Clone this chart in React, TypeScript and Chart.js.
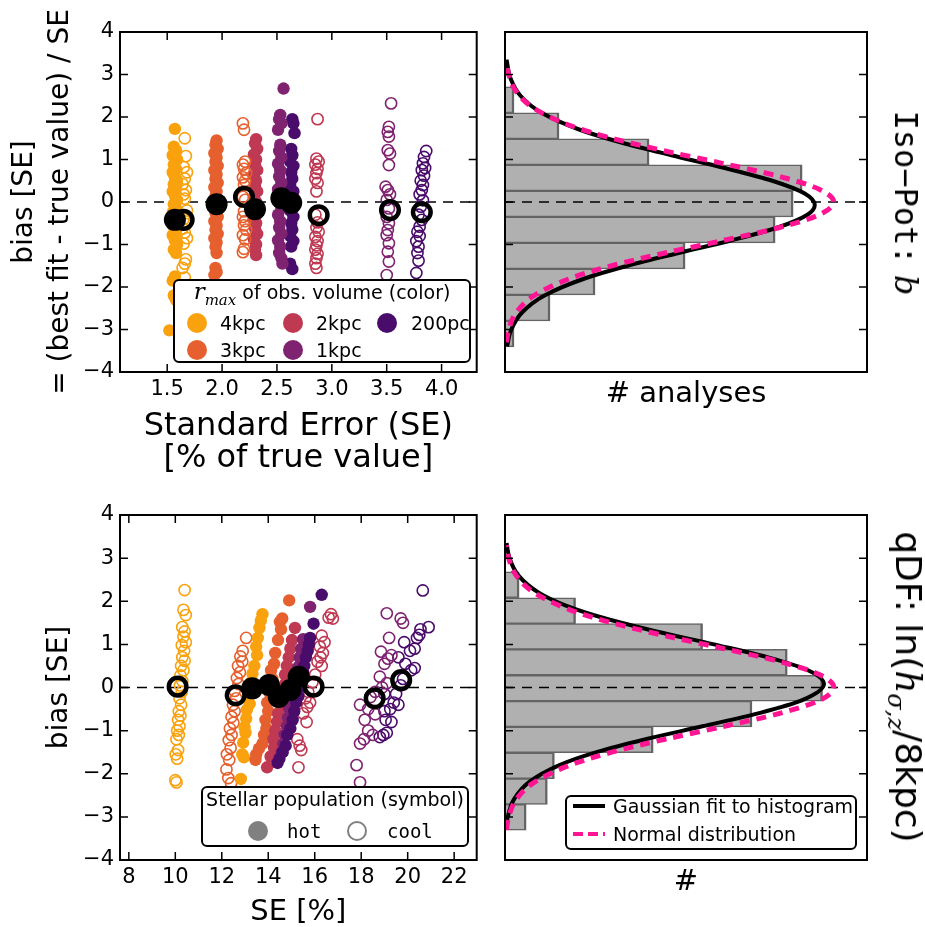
import React, { useEffect, useRef } from 'react';
import { Chart, registerables } from 'chart.js';

Chart.register(...registerables);

const SANS = "'DejaVu Sans', sans-serif";
const SERIF = "'DejaVu Serif', serif";
const MONO = "'DejaVu Sans Mono', monospace";

const C_4KPC = '#f9a20e';
const C_3KPC = '#e5602e';
const C_2KPC = '#bf3953';
const C_1KPC = '#7f2370';
const C_200PC = '#4a0c6b';
const PINK = '#ff1493';
const LEGEND_GRAY = '#808080';

// ---------- ticks ----------
const Y_TICKS = [-4, -3, -2, -1, 0, 1, 2, 3, 4];
const HIST_Y_TICKS = [-3, -2, -1, 0, 1, 2, 3];
const TL_X_TICKS = [1.5, 2.0, 2.5, 3.0, 3.5, 4.0];
const BL_X_TICKS = [8, 10, 12, 14, 16, 18, 20, 22];
const TL_X_RANGE = [1.07, 4.32];
const BL_X_RANGE = [7.62, 22.97];
const Y_RANGE = [-4, 4];

type Pt = [number, number];

// ---------- top-left: Iso-Pot b (SE in % of true value, bias in SE) ----------
const TL_4KPC_HOT: Pt[] = [[1.57,1.72],[1.56,1.30],[1.58,1.22],[1.55,1.10],[1.59,1.00],[1.56,0.88],[1.58,0.78],[1.55,0.70],[1.57,0.58],[1.59,0.50],[1.56,0.42],[1.58,0.32],[1.55,0.25],[1.57,0.15],[1.59,0.05],[1.56,-0.05],[1.58,-0.15],[1.55,-0.25],[1.57,-0.35],[1.59,-0.48],[1.56,-0.58],[1.58,-0.68],[1.55,-0.78],[1.57,-0.90],[1.59,-1.00],[1.56,-1.12],[1.58,-1.20],[1.57,-1.75],[1.55,-1.85],[1.56,-2.20],[1.58,-2.30],[1.52,-3.02]];
const TL_4KPC_COOL: Pt[] = [[1.66,1.50],[1.67,1.08],[1.65,0.82],[1.68,0.70],[1.66,0.55],[1.64,0.42],[1.67,0.28],[1.65,0.18],[1.66,0.08],[1.68,-0.20],[1.65,-0.40],[1.67,-0.52],[1.64,-0.62],[1.66,-0.72],[1.68,-0.85],[1.65,-0.98],[1.67,-1.35],[1.66,-1.45],[1.64,-1.55],[1.66,-1.78]];
const TL_3KPC_HOT: Pt[] = [[1.95,1.45],[1.94,1.35],[1.96,1.25],[1.93,1.15],[1.95,1.05],[1.94,0.95],[1.96,0.85],[1.93,0.75],[1.95,0.65],[1.94,0.55],[1.96,0.45],[1.93,0.35],[1.95,0.25],[1.94,0.15],[1.96,0.05],[1.93,-0.05],[1.95,-0.15],[1.94,-0.25],[1.96,-0.35],[1.93,-0.45],[1.95,-0.55],[1.94,-0.65],[1.96,-0.75],[1.93,-0.85],[1.95,-0.95],[1.94,-1.05],[1.95,-1.20],[1.94,-1.55],[1.95,-1.65],[1.93,-1.72]];
const TL_3KPC_COOL: Pt[] = [[2.19,1.85],[2.20,1.70],[2.21,0.95],[2.19,0.88],[2.20,0.78],[2.22,0.68],[2.19,0.58],[2.21,0.50],[2.20,0.40],[2.19,0.12],[2.21,0.05],[2.20,-0.22],[2.19,-0.35],[2.21,-0.45],[2.20,-0.55],[2.22,-0.65],[2.19,-0.78],[2.21,-0.88],[2.20,-1.10],[2.19,-1.18]];
const TL_2KPC_HOT: Pt[] = [[2.31,1.48],[2.30,1.38],[2.32,1.25],[2.29,1.12],[2.31,1.00],[2.30,0.88],[2.32,0.75],[2.29,0.62],[2.31,0.50],[2.30,0.38],[2.32,0.25],[2.29,0.12],[2.31,0.00],[2.30,-0.12],[2.32,-0.25],[2.29,-0.38],[2.31,-0.50],[2.30,-0.62],[2.32,-0.75],[2.29,-0.88],[2.31,-1.00],[2.30,-1.12],[2.31,-1.25]];
const TL_1KPC_HOT: Pt[] = [[2.56,2.67],[2.53,2.05],[2.52,1.95],[2.54,1.85],[2.51,1.70],[2.53,1.35],[2.52,1.20],[2.54,1.05],[2.51,0.90],[2.53,0.75],[2.52,0.60],[2.54,0.45],[2.51,0.30],[2.53,0.15],[2.52,0.00],[2.54,-0.15],[2.51,-0.30],[2.53,-0.45],[2.52,-0.60],[2.54,-0.75],[2.51,-0.90],[2.53,-1.05],[2.52,-1.20],[2.54,-1.32],[2.55,-1.45]];
const TL_200PC_HOT: Pt[] = [[2.64,1.95],[2.65,1.85],[2.66,1.62],[2.63,1.25],[2.64,1.10],[2.62,0.95],[2.65,0.85],[2.63,0.70],[2.64,0.55],[2.62,0.40],[2.65,0.25],[2.63,0.10],[2.64,-0.05],[2.62,-0.20],[2.65,-0.35],[2.63,-0.50],[2.64,-0.65],[2.62,-0.80],[2.65,-0.92],[2.63,-1.05],[2.62,-1.45],[2.64,-1.58]];
const TL_2KPC_COOL: Pt[] = [[2.87,1.95],[2.86,1.02],[2.88,0.95],[2.85,0.88],[2.87,0.78],[2.86,0.68],[2.85,0.55],[2.87,0.45],[2.86,0.25],[2.85,-0.30],[2.87,-0.48],[2.86,-0.60],[2.88,-0.70],[2.85,-0.82],[2.87,-0.92],[2.86,-1.02],[2.85,-1.12],[2.87,-1.22],[2.86,-1.32],[2.85,-1.45],[2.86,-1.55]];
const TL_1KPC_COOL: Pt[] = [[3.54,2.32],[3.52,1.77],[3.51,1.65],[3.52,1.54],[3.51,1.22],[3.53,1.14],[3.52,0.87],[3.49,0.36],[3.51,0.28],[3.53,0.18],[3.50,0.05],[3.52,-0.15],[3.50,-0.35],[3.52,-0.50],[3.51,-0.66],[3.50,-0.78],[3.52,-0.97],[3.51,-1.17],[3.52,-1.40],[3.50,-1.72]];
const TL_200PC_COOL: Pt[] = [[3.86,1.20],[3.84,1.06],[3.83,0.91],[3.85,0.80],[3.82,0.75],[3.84,0.62],[3.81,0.50],[3.83,0.40],[3.82,0.28],[3.80,0.18],[3.83,0.04],[3.81,-0.11],[3.79,-0.30],[3.82,-0.42],[3.80,-0.58],[3.78,-0.70],[3.80,-0.80],[3.77,-0.92],[3.79,-1.05],[3.78,-1.20],[3.79,-1.38],[3.77,-1.67]];
const TL_MEAN_HOT: Pt[] = [[1.57,-0.42],[1.95,-0.05],[2.30,-0.17],[2.54,0.09],[2.63,-0.02]];
const TL_MEAN_COOL: Pt[] = [[1.65,-0.42],[2.20,0.12],[2.88,-0.31],[3.53,-0.19],[3.82,-0.24]];

// ---------- bottom-left: qDF ln(h_sigma,z / 8kpc) ----------
const BL_4KPC_COOL: Pt[] = [[10.40,2.26],[10.35,1.80],[10.45,1.68],[10.30,1.40],[10.40,1.30],[10.35,1.18],[10.45,1.05],[10.28,0.98],[10.38,0.85],[10.30,0.70],[10.40,0.62],[10.25,0.50],[10.35,0.40],[10.22,0.28],[10.30,0.15],[10.20,0.05],[10.28,-0.10],[10.18,-0.25],[10.25,-0.40],[10.15,-0.55],[10.22,-0.65],[10.12,-0.75],[10.18,-0.90],[10.08,-1.00],[10.15,-1.10],[10.05,-1.20],[10.12,-1.45],[10.02,-1.55],[10.08,-1.65],[10.00,-2.15],[10.05,-2.20]];
const BL_3KPC_COOL: Pt[] = [[13.05,1.15],[12.90,0.85],[12.80,0.72],[12.88,0.60],[12.70,0.50],[12.78,0.35],[12.65,0.22],[12.72,0.08],[12.55,-0.08],[12.62,-0.25],[12.48,-0.40],[12.55,-0.55],[12.42,-0.68],[12.50,-0.82],[12.35,-0.95],[12.42,-1.10],[12.30,-1.22],[12.38,-1.40],[12.22,-1.55],[12.32,-1.68],[12.20,-1.90],[12.28,-2.10],[12.40,-2.22]];
const BL_4KPC_HOT: Pt[] = [[13.75,1.70],[13.68,1.55],[13.62,1.38],[13.55,1.15],[13.48,0.95],[13.52,0.75],[13.40,0.50],[13.32,0.32],[13.25,0.12],[13.30,-0.05],[13.15,-0.22],[13.20,-0.38],[13.08,-0.52],[13.05,-0.72],[12.98,-0.92],[13.02,-1.05],[12.92,-1.28],[12.88,-1.55],[12.95,-1.62],[12.82,-2.12]];
const BL_3KPC_HOT: Pt[] = [[14.90,2.02],[14.60,1.60],[14.50,1.52],[14.55,1.35],[14.42,1.10],[14.30,0.80],[14.25,0.55],[14.12,0.40],[14.18,0.20],[14.02,0.02],[14.08,-0.15],[13.95,-0.35],[14.00,-0.55],[13.88,-0.75],[13.92,-0.95],[13.82,-1.10],[13.75,-1.30],[13.60,-1.42],[13.48,-1.55],[13.45,-1.68]];
const BL_2KPC_HOT: Pt[] = [[15.15,1.38],[15.02,1.10],[14.95,0.90],[14.88,0.70],[14.80,0.50],[14.72,0.30],[14.75,0.10],[14.62,-0.05],[14.52,-0.22],[14.55,-0.40],[14.42,-0.60],[14.38,-0.80],[14.30,-1.00],[14.22,-1.20],[14.25,-1.40],[14.10,-1.60],[13.95,-1.85]];
const BL_1KPC_HOT: Pt[] = [[15.80,1.87],[15.50,1.12],[15.42,0.90],[15.35,0.70],[15.30,0.48],[15.20,0.30],[15.12,0.10],[15.05,-0.10],[14.98,-0.30],[14.90,-0.50],[14.85,-0.70],[14.80,-0.90],[14.70,-1.10],[14.65,-1.30],[14.58,-1.50]];
const BL_200PC_HOT: Pt[] = [[16.30,2.15],[15.95,1.48],[15.80,1.15],[15.75,1.00],[15.70,0.85],[15.62,0.70],[15.55,0.50],[15.50,0.35],[15.45,0.15],[15.35,0.00],[15.30,-0.20],[15.20,-0.35],[15.12,-0.55],[15.05,-0.75],[14.95,-0.95],[14.82,-1.10],[14.75,-1.35],[14.62,-1.50],[14.48,-1.65],[14.40,-1.75]];
const BL_2KPC_COOL: Pt[] = [[16.70,1.70],[16.60,1.62],[16.78,1.60],[16.30,1.20],[16.42,1.05],[16.22,0.95],[16.35,0.80],[16.25,0.70],[16.12,0.60],[16.30,0.50],[16.02,0.30],[15.90,0.12],[15.72,-0.10],[15.60,-0.25],[15.80,-0.35],[15.68,-0.45],[15.50,-0.60],[15.65,-0.80],[15.25,-1.20],[15.35,-1.35],[15.42,-1.45],[15.30,-1.85]];
const BL_1KPC_COOL: Pt[] = [[19.10,1.72],[19.70,1.60],[19.80,1.50],[19.20,1.15],[18.85,0.83],[19.15,0.67],[19.30,0.75],[19.00,0.55],[18.80,0.25],[19.10,0.10],[18.90,0.00],[18.60,-0.10],[18.40,-0.22],[17.95,-0.40],[18.30,-0.50],[18.60,-0.62],[18.15,-0.75],[18.30,-1.00],[18.50,-1.10],[17.95,-1.30],[18.12,-1.20],[17.80,-1.80],[17.95,-2.20]];
const BL_200PC_COOL: Pt[] = [[20.65,2.25],[20.90,1.40],[20.55,1.35],[20.40,1.15],[20.50,1.22],[20.30,0.90],[19.85,1.05],[20.10,0.85],[19.60,0.70],[19.90,0.55],[20.15,0.40],[20.30,0.45],[19.80,0.20],[19.70,0.05],[19.50,-0.15],[19.00,-0.15],[19.40,-0.35],[19.25,-0.50],[19.00,-0.55],[19.60,-0.40],[19.05,-0.75],[19.30,-0.80],[18.95,-1.10],[18.80,-1.15],[19.10,-1.05]];
const BL_MEAN_HOT: Pt[] = [[13.31,-0.02],[14.03,0.06],[14.45,-0.22],[14.95,-0.06],[15.31,0.25]];
const BL_MEAN_COOL: Pt[] = [[10.10,0.02],[12.60,-0.18],[15.95,0.02],[18.58,-0.25],[19.72,0.17]];

// ---------- histograms ----------
const TR_BIN_CENTERS = [-3.104, -2.492, -1.880, -1.268, -0.656, -0.044, 0.568, 1.180, 1.792, 2.404];
const TR_COUNTS = [1, 5, 10, 20, 30, 32, 33, 16, 6, 1];
const TR_X_MAX = 40.2;
const TR_FIT_Y = [-3.4,-3.0,-2.6,-2.2,-1.8,-1.5,-1.2,-0.9,-0.6,-0.3,-0.07,0.2,0.5,0.8,1.1,1.4,1.7,2.1,2.5,2.9,3.35];
const TR_FIT_X = [0.23,0.70,1.89,4.39,8.85,13.61,19.28,25.18,30.28,33.58,34.4,33.28,29.68,24.40,18.49,12.91,8.31,4.06,1.72,0.63,0.17];
const TR_NORM_Y = [-3.3,-3.0,-2.6,-2.2,-1.8,-1.5,-1.2,-0.9,-0.6,-0.3,0,0.3,0.6,0.9,1.2,1.5,1.8,2.2,2.6,3.0,3.3];
const TR_NORM_X = [0.16,0.41,1.24,3.24,7.22,11.85,17.77,24.35,30.49,34.89,36.5,34.89,30.49,24.35,17.77,11.85,7.22,3.24,1.24,0.41,0.16];

const BR_BIN_CENTERS = [-3.010, -2.411, -1.812, -1.213, -0.614, -0.015, 0.584, 1.183, 1.782, 2.381];
const BR_COUNTS = [3, 6, 7, 21, 35, 45, 40, 28, 10, 2];
const BR_X_MAX = 51.3;
const BR_FIT_Y = [-3.3,-3.0,-2.6,-2.2,-1.8,-1.5,-1.2,-0.9,-0.6,-0.3,0.08,0.4,0.7,1.0,1.3,1.6,1.9,2.2,2.6,3.0,3.35];
const BR_FIT_X = [0.15,0.39,1.25,3.36,7.72,12.97,19.93,27.97,35.87,42.05,45.2,42.94,37.30,29.61,21.47,14.24,8.63,4.78,1.89,0.64,0.22];
const BR_NORM_Y = [-3.3,-3.0,-2.6,-2.2,-1.8,-1.5,-1.2,-0.9,-0.6,-0.3,0,0.3,0.6,0.9,1.2,1.5,1.8,2.2,2.6,3.0,3.3];
const BR_NORM_X = [0.20,0.52,1.58,4.14,9.22,15.13,22.68,31.08,38.92,44.55,46.6,44.55,38.92,31.08,22.68,15.13,9.22,4.14,1.58,0.52,0.20];

// ---------- helpers ----------
const toXY = (a: Pt[]) => a.map(([x, y]) => ({ x, y }));
const minus = (v: number) => (v < 0 ? '\u2212' + Math.abs(v) : String(v));

function makeFrame(xTicks: number[], yTicks: number[]) {
  return {
    id: 'frameTicks',
    afterDraw(chart: any) {
      const { ctx, chartArea: a, scales } = chart;
      ctx.save();
      ctx.strokeStyle = '#000';
      ctx.lineWidth = 1.5;
      const L = 8;
      ctx.beginPath();
      xTicks.forEach((v) => {
        const p = scales.x.getPixelForValue(v);
        if (p <= a.left + 1 || p >= a.right - 1) return;
        ctx.moveTo(p, a.bottom); ctx.lineTo(p, a.bottom - L);
        ctx.moveTo(p, a.top); ctx.lineTo(p, a.top + L);
      });
      yTicks.forEach((v) => {
        const p = scales.y.getPixelForValue(v);
        if (p <= a.top + 1 || p >= a.bottom - 1) return;
        ctx.moveTo(a.left, p); ctx.lineTo(a.left + L, p);
        ctx.moveTo(a.right, p); ctx.lineTo(a.right - L, p);
      });
      ctx.stroke();
      ctx.lineWidth = 2;
      ctx.strokeRect(a.left, a.top, a.right - a.left, a.bottom - a.top);
      ctx.restore();
    },
  };
}

type Group = { pts: Pt[]; color: string; filled: boolean };

function scatterConfig(p: {
  groups: Group[]; hot: Pt[]; cool: Pt[]; xRange: number[]; xTicks: number[];
  xFmt: (v: number) => string; xTitle: string | string[]; xTitleSize: number; xTitleLH: number; xTitlePB: number;
  yTitle: string | string[]; yTitlePT: number; xAxisHeight: number; top: number;
}): any {
  const datasets: any[] = [];
  datasets.push({
    type: 'scatter', data: toXY(p.hot), pointRadius: 11, pointBackgroundColor: '#000',
    pointBorderColor: '#000', pointBorderWidth: 0, order: 1,
  });
  datasets.push({
    type: 'scatter', data: toXY(p.cool), pointRadius: 8.8, pointBackgroundColor: 'rgba(0,0,0,0)',
    pointBorderColor: '#000', pointBorderWidth: 4.5, order: 0,
  });
  p.groups.forEach((g, i) => {
    datasets.push({
      type: 'scatter', data: toXY(g.pts),
      pointRadius: g.filled ? 6.2 : 5.6,
      pointBackgroundColor: g.filled ? g.color : 'rgba(0,0,0,0)',
      pointBorderColor: g.color, pointBorderWidth: g.filled ? 0 : 1.6, order: 10 + i,
    });
  });
  datasets.push({
    type: 'line', data: [{ x: p.xRange[0], y: 0 }, { x: p.xRange[1], y: 0 }],
    borderColor: '#000', borderWidth: 1.5, borderDash: [10, 7], pointRadius: 0, order: 100,
  });
  return {
    type: 'scatter',
    data: { datasets },
    options: {
      responsive: false, maintainAspectRatio: false, animation: false, events: [],
      layout: { padding: { top: p.top, right: 9, left: 0, bottom: 0 } },
      plugins: { legend: { display: false }, tooltip: { enabled: false } },
      scales: {
        x: {
          type: 'linear', min: p.xRange[0], max: p.xRange[1], offset: false,
          afterBuildTicks: (s: any) => { s.ticks = p.xTicks.map((v) => ({ value: v })); },
          afterFit: (s: any) => { s.height = p.xAxisHeight; },
          ticks: { callback: (v: number) => p.xFmt(v), font: { family: SANS, size: 21 }, color: '#000', padding: 5, autoSkip: false, maxRotation: 0 },
          grid: { display: false, drawTicks: false }, border: { display: false },
          title: { display: true, text: p.xTitle, color: '#000', font: { family: SANS, size: p.xTitleSize, lineHeight: p.xTitleLH }, padding: { top: 0, bottom: p.xTitlePB } },
        },
        y: {
          type: 'linear', min: Y_RANGE[0], max: Y_RANGE[1], offset: false,
          afterBuildTicks: (s: any) => { s.ticks = Y_TICKS.map((v) => ({ value: v })); },
          afterFit: (s: any) => { s.width = 120; },
          ticks: { callback: (v: number) => minus(v), font: { family: SANS, size: 21 }, color: '#000', padding: 6, autoSkip: false },
          grid: { display: false, drawTicks: false }, border: { display: false },
          title: { display: true, text: p.yTitle, color: '#000', font: { family: SANS, size: 28, lineHeight: 1.29 }, padding: { top: p.yTitlePT, bottom: 0 } },
        },
      },
    },
    plugins: [makeFrame(p.xTicks, Y_TICKS)],
  };
}

function histConfig(p: {
  centers: number[]; counts: number[]; xMax: number; fitX: number[]; fitY: number[];
  normX: number[]; normY: number[]; xTitle: string; xTitlePB: number; xAxisHeight: number; top: number;
}): any {
  return {
    type: 'bar',
    data: {
      datasets: [
        {
          type: 'line', label: 'Normal distribution', data: p.normX.map((x, i) => ({ x, y: p.normY[i] })),
          borderColor: PINK, borderWidth: 5, borderDash: [10, 7], pointRadius: 0, fill: false,
          cubicInterpolationMode: 'monotone', order: 0,
        },
        {
          type: 'line', label: 'Gaussian fit to histogram', data: p.fitX.map((x, i) => ({ x, y: p.fitY[i] })),
          borderColor: '#000', borderWidth: 4, pointRadius: 0, fill: false,
          cubicInterpolationMode: 'monotone', order: 1,
        },
        {
          type: 'line', data: [{ x: 0, y: 0 }, { x: p.xMax, y: 0 }],
          borderColor: '#000', borderWidth: 1.5, borderDash: [10, 7], pointRadius: 0, order: 2,
        },
        {
          type: 'bar', data: p.counts.map((c, i) => ({ x: c, y: p.centers[i] })),
          backgroundColor: '#b0b0b0', borderColor: '#646464',
          borderWidth: { top: 1.5, bottom: 1.5, right: 2.5, left: 1 }, borderSkipped: false,
          barThickness: 'flex', barPercentage: 1, categoryPercentage: 1, order: 3,
        },
      ],
    },
    options: {
      indexAxis: 'y',
      responsive: false, maintainAspectRatio: false, animation: false, events: [],
      layout: { padding: { top: p.top, right: 58, left: 15, bottom: 0 } },
      plugins: { legend: { display: false }, tooltip: { enabled: false } },
      scales: {
        x: {
          type: 'linear', min: 0, max: p.xMax, offset: false,
          afterFit: (s: any) => { s.height = p.xAxisHeight; },
          ticks: { display: false }, grid: { display: false, drawTicks: false, offset: false }, border: { display: false },
          title: { display: true, text: p.xTitle, color: '#000', font: { family: SANS, size: 29, lineHeight: 1.2 }, padding: { top: 0, bottom: p.xTitlePB } },
        },
        y: { type: 'linear', min: Y_RANGE[0], max: Y_RANGE[1], display: false, offset: false, grid: { offset: false } },
      },
    },
    plugins: [makeFrame([], HIST_Y_TICKS)],
  };
}

const TL_GROUPS: Group[] = [
  { pts: TL_4KPC_HOT, color: C_4KPC, filled: true },
  { pts: TL_4KPC_COOL, color: C_4KPC, filled: false },
  { pts: TL_3KPC_HOT, color: C_3KPC, filled: true },
  { pts: TL_3KPC_COOL, color: C_3KPC, filled: false },
  { pts: TL_2KPC_HOT, color: C_2KPC, filled: true },
  { pts: TL_1KPC_HOT, color: C_1KPC, filled: true },
  { pts: TL_200PC_HOT, color: C_200PC, filled: true },
  { pts: TL_2KPC_COOL, color: C_2KPC, filled: false },
  { pts: TL_1KPC_COOL, color: C_1KPC, filled: false },
  { pts: TL_200PC_COOL, color: C_200PC, filled: false },
];
const BL_GROUPS: Group[] = [
  { pts: BL_200PC_HOT, color: C_200PC, filled: true },
  { pts: BL_1KPC_HOT, color: C_1KPC, filled: true },
  { pts: BL_2KPC_HOT, color: C_2KPC, filled: true },
  { pts: BL_3KPC_HOT, color: C_3KPC, filled: true },
  { pts: BL_4KPC_HOT, color: C_4KPC, filled: true },
  { pts: BL_4KPC_COOL, color: C_4KPC, filled: false },
  { pts: BL_3KPC_COOL, color: C_3KPC, filled: false },
  { pts: BL_2KPC_COOL, color: C_2KPC, filled: false },
  { pts: BL_1KPC_COOL, color: C_1KPC, filled: false },
  { pts: BL_200PC_COOL, color: C_200PC, filled: false },
];

const abs = (l: number, t: number): React.CSSProperties => ({ position: 'absolute', left: l, top: t });

function Dot({ cx, cy, color, filled, r = 10 }: { cx: number; cy: number; color: string; filled: boolean; r?: number }) {
  return (
    <div style={{
      ...abs(cx - r, cy - r), width: 2 * r, height: 2 * r, borderRadius: '50%', boxSizing: 'border-box',
      background: filled ? color : 'transparent', border: filled ? 'none' : `2px solid ${color}`,
    }} />
  );
}

function Txt({ x, cy, children, font = SANS, size = 19 }: any) {
  return (
    <div style={{ ...abs(x, cy - 12), lineHeight: '24px', fontSize: size, fontFamily: font, whiteSpace: 'nowrap' }}>{children}</div>
  );
}

export default function App() {
  const tl = useRef<HTMLCanvasElement>(null);
  const tr = useRef<HTMLCanvasElement>(null);
  const bl = useRef<HTMLCanvasElement>(null);
  const br = useRef<HTMLCanvasElement>(null);

  useEffect(() => {
    const charts = [
      new Chart(tl.current!, scatterConfig({
        groups: TL_GROUPS, hot: TL_MEAN_HOT, cool: TL_MEAN_COOL, xRange: TL_X_RANGE, xTicks: TL_X_TICKS,
        xFmt: (v) => v.toFixed(1), xTitle: ['Standard Error (SE)', '[% of true value]'], xTitleSize: 32, xTitleLH: 1.0, xTitlePB: 5,
        yTitle: ['bias [SE]', '= (best fit - true value) / SE'], yTitlePT: 7, xAxisHeight: 108, top: 32,
      })),
      new Chart(bl.current!, scatterConfig({
        groups: BL_GROUPS, hot: BL_MEAN_HOT, cool: BL_MEAN_COOL, xRange: BL_X_RANGE, xTicks: BL_X_TICKS,
        xFmt: (v) => String(v), xTitle: 'SE [%]', xTitleSize: 29, xTitleLH: 1.0, xTitlePB: 0,
        yTitle: 'bias [SE]', yTitlePT: 42, xAxisHeight: 67, top: 35,
      })),
      new Chart(tr.current!, histConfig({
        centers: TR_BIN_CENTERS, counts: TR_COUNTS, xMax: TR_X_MAX, fitX: TR_FIT_X, fitY: TR_FIT_Y,
        normX: TR_NORM_X, normY: TR_NORM_Y, xTitle: '# analyses', xTitlePB: 68, xAxisHeight: 108, top: 32,
      })),
      new Chart(br.current!, histConfig({
        centers: BR_BIN_CENTERS, counts: BR_COUNTS, xMax: BR_X_MAX, fitX: BR_FIT_X, fitY: BR_FIT_Y,
        normX: BR_NORM_X, normY: BR_NORM_Y, xTitle: '#', xTitlePB: 27, xAxisHeight: 67, top: 35,
      })),
    ];
    return () => charts.forEach((c) => c.destroy());
  }, []);

  const box: React.CSSProperties = {
    position: 'absolute', boxSizing: 'border-box', border: '2px solid #000', borderRadius: 6, background: '#fff',
  };

  return (
    <div style={{ position: 'absolute', left: 0, top: 0, width: 925, height: 927, overflow: 'hidden', background: '#fff', fontFamily: SANS, color: '#000' }}>
      <canvas ref={tl} width={490} height={480} style={abs(0, 0)} />
      <canvas ref={tr} width={435} height={480} style={abs(490, 0)} />
      <canvas ref={bl} width={490} height={447} style={abs(0, 480)} />
      <canvas ref={br} width={435} height={447} style={abs(490, 480)} />

      {/* top-left legend: colour = r_max */}
      <div style={{ ...box, left: 173, top: 279, width: 298, height: 84 }}>
        <div style={{ position: 'absolute', left: 0, width: '100%', top: -2, textAlign: 'center', lineHeight: '24px', fontSize: 19, whiteSpace: 'nowrap' }}>
          <i style={{ fontFamily: SERIF, fontSize: 23 }}>r</i>
          <span style={{ fontFamily: SERIF, fontStyle: 'italic', fontSize: 15, position: 'relative', top: 6 }}>max</span>
          {' of obs. volume (color)'}
        </div>
        <Dot cx={197 - 175} cy={323 - 281} color={C_4KPC} filled />
        <Txt x={220 - 175} cy={323 - 281}>4kpc</Txt>
        <Dot cx={293 - 175} cy={323 - 281} color={C_2KPC} filled />
        <Txt x={316 - 175} cy={323 - 281}>2kpc</Txt>
        <Dot cx={387 - 175} cy={323 - 281} color={C_200PC} filled />
        <Txt x={411 - 175} cy={323 - 281}>200pc</Txt>
        <Dot cx={197 - 175} cy={350 - 281} color={C_3KPC} filled />
        <Txt x={220 - 175} cy={350 - 281}>3kpc</Txt>
        <Dot cx={293 - 175} cy={350 - 281} color={C_1KPC} filled />
        <Txt x={316 - 175} cy={350 - 281}>1kpc</Txt>
      </div>

      {/* bottom-left legend: symbol = population */}
      <div style={{ ...box, left: 201, top: 786, width: 268, height: 61 }}>
        <div style={{ position: 'absolute', left: 0, width: '100%', top: -1, textAlign: 'center', lineHeight: '24px', fontSize: 19, whiteSpace: 'nowrap' }}>
          Stellar population (symbol)
        </div>
        <Dot cx={258 - 203} cy={831 - 788} color={LEGEND_GRAY} filled />
        <Txt x={287 - 203} cy={831 - 788} font={MONO}>hot</Txt>
        <Dot cx={357 - 203} cy={831 - 788} color={LEGEND_GRAY} filled={false} />
        <Txt x={387 - 203} cy={831 - 788} font={MONO}>cool</Txt>
      </div>

      {/* bottom-right legend: lines */}
      <div style={{ ...box, left: 565, top: 795, width: 292, height: 55 }}>
        <div style={{ ...abs(573 - 567, 806 - 797 - 2), width: 32, height: 4, background: '#000' }} />
        <Txt x={613 - 567} cy={806 - 797}>Gaussian fit to histogram</Txt>
        <div style={{ ...abs(573 - 567, 834 - 797 - 2), width: 32, height: 4, background: `repeating-linear-gradient(to right, ${PINK} 0px, ${PINK} 10px, transparent 10px, transparent 15px)` }} />
        <Txt x={613 - 567} cy={834 - 797}>Normal distribution</Txt>
      </div>

      {/* right-hand row labels */}
      <div style={{ ...abs(906, 203), transform: 'translate(-50%, -50%) rotate(90deg)', whiteSpace: 'nowrap', fontSize: 32, lineHeight: '40px' }}>
        <span style={{ fontFamily: MONO }}>Iso{'\u2212'}Pot:</span>{' '}
        <i style={{ fontFamily: SERIF }}>b</i>
      </div>
      <div style={{ ...abs(906, 687), transform: 'translate(-50%, -50%) rotate(90deg)', whiteSpace: 'nowrap', fontSize: 36, lineHeight: '40px', fontFamily: SANS }}>
        qDF: ln(<i style={{ fontFamily: SERIF }}>h</i>
        <span style={{ fontFamily: SERIF, fontStyle: 'italic', fontSize: 24, position: 'relative', top: 8 }}>{'\u03c3'},z</span>
        /8kpc)
      </div>
    </div>
  );
}
